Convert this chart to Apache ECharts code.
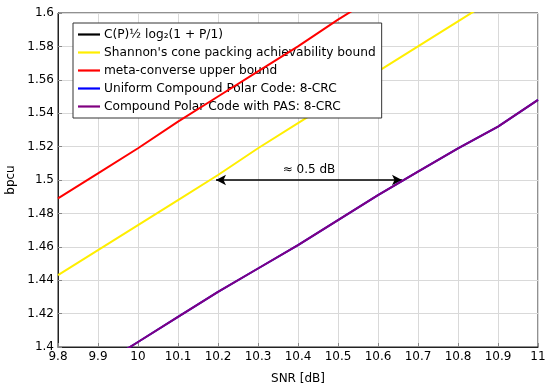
<!DOCTYPE html>
<html>
<head>
<meta charset="utf-8">
<script src="https://cdn.jsdelivr.net/npm/echarts@6/dist/echarts.min.js"></script>
<style>html,body{margin:0;padding:0;background:#fff}#c{width:545px;height:387px}</style>
</head>
<body>
<div id="c"></div>
<script>
const snr = [9.8, 9.9, 10.0, 10.1, 10.2, 10.3, 10.4, 10.5, 10.6, 10.7, 10.8, 10.9, 11.0];
const capacity = [1.700, 1.716, 1.732, 1.748, 1.764, 1.780, 1.796, 1.812, 1.828, 1.844, 1.860, 1.876, 1.892];
const shannonCone = [1.443, 1.458, 1.473, 1.488, 1.503, 1.519, 1.534, 1.549, 1.565, 1.580, 1.595, 1.610, 1.625];
const metaConverse = [1.489, 1.504, 1.519, 1.535, 1.550, 1.565, 1.580, 1.596, 1.611, 1.626, 1.641, 1.657, 1.672];
const uniformPolar = [1.373, 1.388, 1.403, 1.418, 1.433, 1.447, 1.461, 1.476, 1.491, 1.505, 1.519, 1.532, 1.548];
const pasPolar = [1.373, 1.388, 1.403, 1.418, 1.433, 1.447, 1.461, 1.476, 1.491, 1.505, 1.519, 1.532, 1.548];
const gapArrow = [[10.195, 1.5], [10.66, 1.5]];
const gapLabel = '≈ 0.5 dB';
const names = ['C(P)½ log₂(1 + P/1)', "Shannon's cone packing achievability bound", 'meta-converse upper bound', 'Uniform Compound Polar Code: 8-CRC', 'Compound Polar Code with PAS: 8-CRC'];
const colors = ['#000000', '#ffee00', '#ff0000', '#0000ff', '#800080'];
const seriesValues = [capacity, shannonCone, metaConverse, uniformPolar, pasPolar];

const font = 'DejaVu Sans';
const chart = echarts.init(document.getElementById('c'), null, {renderer: 'canvas'});
const series = names.map((n, i) => ({
  name: n,
  type: 'line',
  data: snr.map((x, j) => [x, seriesValues[i][j]]),
  showSymbol: false,
  lineStyle: {color: colors[i], width: 2},
  itemStyle: {color: colors[i]},
  clip: true,
  z: 2 + i,
  animation: false
}));
series[4].markLine = {
  silent: true,
  symbol: ['arrow', 'arrow'],
  symbolSize: [8, 10],
  lineStyle: {color: '#000', width: 1.5, type: 'solid'},
  label: {show: true, position: 'middle', formatter: gapLabel, color: '#000', fontFamily: font, fontSize: 12, distance: 4},
  data: [[{coord: gapArrow[0]}, {coord: gapArrow[1]}]],
  animation: false
};
const fmt = v => String(Math.round(v * 1000) / 1000);
chart.setOption({
  animation: false,
  textStyle: {fontFamily: font},
  grid: {left: 58, right: 7, top: 13, bottom: 40, show: true, borderColor: '#222', borderWidth: 1, containLabel: false, outerBoundsMode: 'none'},
  legend: {
    orient: 'vertical', left: 73, top: 23,
    data: names,
    icon: 'path://M0,0 L10,0 L10,1 L0,1 Z',
    itemWidth: 22, itemHeight: 2.5, itemGap: 5,
    padding: [5, 6, 5, 5],
    backgroundColor: '#fff', borderColor: '#333', borderWidth: 1, borderRadius: 0,
    textStyle: {fontFamily: font, fontSize: 12.2, color: '#000', lineHeight: 13, padding: [0, 0, 0, -1]},
    selectedMode: false
  },
  xAxis: {
    type: 'value', min: 9.8, max: 11, interval: 0.1,
    name: 'SNR [dB]', nameLocation: 'middle', nameGap: 26,
    nameTextStyle: {fontFamily: font, fontSize: 12, color: '#000'},
    axisLine: {show: true, lineStyle: {color: '#222', width: 1}},
    axisTick: {show: true, inside: true, length: 4, lineStyle: {color: '#888'}},
    axisLabel: {fontFamily: font, fontSize: 12, color: '#000', margin: 4, formatter: fmt, showMinLabel: true, showMaxLabel: true},
    splitLine: {show: true, lineStyle: {color: '#d9d9d9', width: 1}}
  },
  yAxis: {
    type: 'value', min: 1.4, max: 1.6, interval: 0.02,
    name: 'bpcu', nameLocation: 'middle', nameGap: 38, nameRotate: 90,
    nameTextStyle: {fontFamily: font, fontSize: 12, color: '#000'},
    axisLine: {show: true, lineStyle: {color: '#222', width: 1}},
    axisTick: {show: true, inside: true, length: 4, lineStyle: {color: '#888'}},
    axisLabel: {fontFamily: font, fontSize: 12, color: '#000', margin: 4, formatter: fmt, showMinLabel: true, showMaxLabel: true},
    splitLine: {show: true, lineStyle: {color: '#d9d9d9', width: 1}}
  },
  series: series
});
</script>
</body>
</html>
